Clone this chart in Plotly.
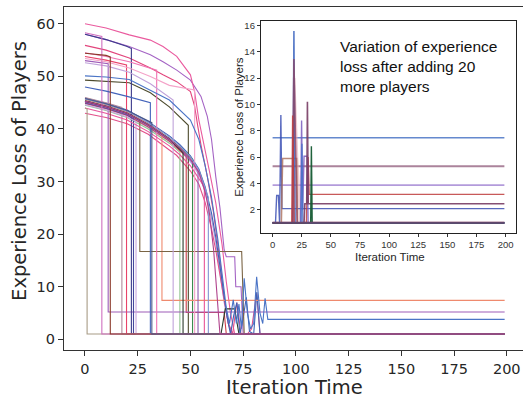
import plotly.graph_objects as go

# ---------------- main chart data (iteration time, experience loss) ----------------
tan_t = [0, 1, 1, 199]
tan_v = [44.0, 43.8, 1, 1]
lmag_t = [0, 8, 8, 199]
lmag_v = [58.3, 57.6, 1, 1]
brown_t = [0, 10, 12, 12, 199]
brown_v = [54.4, 54.0, 53.7, 1, 1]
navyb_t = [0, 10, 20, 31.7, 31.7, 199]
navyb_v = [45.8, 44.8, 43.5, 41.2, 1, 1]
magenta_t = [0, 10, 20, 30, 40, 45, 50, 54, 57, 59, 61, 63, 64, 199]
magenta_v = [45.3, 44.3, 43.0, 40.8, 38.1, 36.4, 34.3, 31.8, 28.0, 24.0, 17.0, 7.0, 1, 1]

purple_long_t = [0, 10, 21, 31, 37, 43.5, 50, 55, 58, 60, 62, 64, 66, 67, 71, 71.5, 74, 75, 199]
purple_long_v = [58, 57, 55.7, 54.1, 52.8, 51.2, 49.3, 46.2, 42.4, 38, 31, 25, 17, 15.7, 15.7, 10, 10, 1, 1]
pink_top_t = [0, 10, 21, 31, 37, 43.5, 50, 52, 54, 56, 59, 62, 65, 67, 69, 71, 199]
pink_top_v = [60, 59.2, 57.9, 56.9, 55.7, 53.8, 50.3, 47, 41.7, 38, 32, 26, 18, 11, 5, 1, 1]
pinkred_t = [0, 10, 21, 31, 37, 43.5, 50, 52, 53.5, 55, 58, 61, 64, 66, 68, 69.5, 199]
pinkred_v = [55.9, 55, 53.5, 51.6, 50.3, 49, 47.1, 44.3, 40.5, 37, 31, 24, 15, 8, 3, 1, 1]
blue_wig_t = [0, 10, 21, 31, 40, 50, 54, 57, 60, 63, 65, 67, 68.5, 70.3, 71.8, 73, 74.2, 75.5,
              77, 78.5, 80, 81.4, 83, 84.3, 85.4, 86.7, 199]
blue_wig_v = [50.1, 49.9, 49.4, 47.4, 45.5, 41.7, 38, 33, 27, 19, 12, 6, 3, 7.5, 3, 6.7, 2, 11.6,
              5, 2, 3, 11.9, 5, 3, 7.8, 3.8, 3.8]
blue2_t = [0, 10, 20, 30, 40, 45, 50, 54, 57, 60, 62, 64, 66, 67.5, 69, 70.5, 72, 73.5, 75, 76.5,
           78, 80, 81.5, 83, 199]
blue2_v = [45.9, 44.9, 43.6, 41.4, 38.7, 37, 34.9, 32.4, 29, 24, 19.5, 13.5, 8, 4, 1, 4.5, 7, 1, 4,
           8, 1.5, 1, 9, 1, 1]
pink43_t = [0, 10, 20, 30, 40, 43.4, 50, 54, 57, 60, 62, 64, 66, 68, 70, 72, 74, 77, 79, 81.4, 83, 199]
pink43_v = [43, 42.2, 41, 39, 36, 35, 32, 29.5, 26, 21, 17, 12, 7.5, 3, 1, 7, 1, 1, 2, 8.75, 1, 1]
lav_t = [0, 10, 20, 30, 40, 45, 50, 54, 57, 60, 62, 64, 66, 68, 70, 199]
lav_v = [44.8, 43.8, 42.5, 40.3, 37.6, 35.9, 33.8, 31.4, 28, 23, 18.5, 12.5, 7, 3, 1, 1]
olive_t = [0, 10, 21, 31, 40, 49, 49, 199]
olive_v = [49.3, 49.0, 48.8, 46.9, 44.2, 40.7, 1, 1]
dkgreen_t = [0, 10, 20, 30, 40, 46.5, 46.5, 64.5, 66.5, 71, 73, 199]
dkgreen_v = [45.3, 44.3, 43, 40.8, 38.1, 35.5, 1, 1, 5.8, 5.8, 1, 1]
green_t = [0, 10, 20, 30, 40, 45, 51, 51, 199]
green_v = [45.4, 44.4, 43.1, 40.9, 38.2, 36.5, 34.2, 1, 1]
lgreen_t = [0, 10, 20, 30, 40, 45, 45, 199]
lgreen_v = [44.5, 43.5, 42.2, 40, 37.3, 35.6, 1, 1]
red_t = [0, 10, 20, 30, 40, 45, 48, 48, 66, 67, 199]
red_v = [44.9, 43.9, 42.6, 40.4, 37.7, 36, 34.8, 5.1, 5.1, 1, 1]
salmon_t = [0, 10, 20, 30, 36.5, 36.5, 199]
salmon_v = [45.6, 44.6, 43.3, 41.1, 39.4, 7.4, 7.4]
oliveb_t = [0, 10, 20, 26, 26, 74.3, 75.5, 199]
oliveb_v = [45.2, 44.2, 42.9, 41.7, 16.7, 16.7, 1, 1]
purple52_t = [0, 11, 11, 199]
purple52_v = [53.0, 52.4, 5.2, 5.2]
mauve_t = [0, 10, 17.5, 17.5, 199]
mauve_v = [46.0, 45.0, 44.1, 1, 1]
redpink_t = [0, 10, 19.7, 19.7, 199]
redpink_v = [53.8, 53.1, 52.2, 1, 1]
navy58_t = [0, 10, 20, 22, 22, 199]
navy58_v = [58, 57, 55.7, 55.3, 1, 1]
navy45_t = [0, 10, 20, 23, 23, 199]
navy45_v = [45, 44, 42.7, 42, 1, 1]
lpurp_t = [0, 10, 20, 24.2, 24.2, 199]
lpurp_v = [44.6, 43.6, 42.3, 41.4, 1, 1]
blue48_t = [0, 10, 20, 31, 31, 199]
blue48_v = [48, 47.2, 46.2, 45, 1, 1]
pink54_t = [0, 10, 21, 34, 34, 199]
pink54_v = [54.5, 53.8, 52.8, 51.2, 1, 1]
lpurp52_t = [0, 10, 21, 31, 41.8, 41.8, 199]
lpurp52_v = [52.6, 52, 50.8, 48.6, 45.5, 1, 1]
lpink_t = [0, 10, 21, 31, 40, 52, 52, 199]
lpink_v = [53.4, 52.8, 51.6, 50, 48.3, 47.4, 1, 1]
purp45_t = [0, 10, 20, 30, 40, 45, 50, 53.6, 53.6, 199]
purp45_v = [45.1, 44.1, 42.8, 40.6, 37.9, 36.2, 34.1, 32, 1, 1]
pink44_t = [0, 10, 20, 30, 40, 45, 50, 56.6, 56.6, 199]
pink44_v = [44, 43, 41.7, 39.5, 36.8, 35.1, 33, 29, 1, 1]
bluelav_t = [0, 10, 20, 30, 40, 45, 50, 54, 58.5, 58.5, 199]
bluelav_v = [45.7, 44.7, 43.4, 41.2, 38.5, 36.8, 34.7, 32.2, 27, 1, 1]

main_series = [
    (purple_long_t, purple_long_v, "#a463c4"),
    (pink_top_t, pink_top_v, "#ea5a9e"),
    (pinkred_t, pinkred_v, "#e2457c"),
    (lav_t, lav_v, "#b49ad8"),
    (pink43_t, pink43_v, "#e2508a"),
    (blue2_t, blue2_v, "#3f62b4"),
    (olive_t, olive_v, "#4c4a2c"),
    (green_t, green_v, "#3c8a4c"),
    (lgreen_t, lgreen_v, "#92c692"),
    (red_t, red_v, "#cf3f4a"),
    (salmon_t, salmon_v, "#ef8a6e"),
    (oliveb_t, oliveb_v, "#7a6444"),
    (purple52_t, purple52_v, "#9d5cb8"),
    (mauve_t, mauve_v, "#b08a9c"),
    (redpink_t, redpink_v, "#e8436a"),
    (navy58_t, navy58_v, "#3d3a8c"),
    (navy45_t, navy45_v, "#46469c"),
    (lpurp_t, lpurp_v, "#c7a8de"),
    (blue48_t, blue48_v, "#4262ba"),
    (pink54_t, pink54_v, "#f072b2"),
    (lpurp52_t, lpurp52_v, "#c0a2da"),
    (lpink_t, lpink_v, "#f4a2c8"),
    (purp45_t, purp45_v, "#8e5cb0"),
    (pink44_t, pink44_v, "#e8559a"),
    (bluelav_t, bluelav_v, "#8494d2"),
    (dkgreen_t, dkgreen_v, "#2a3a2a"),
    (blue_wig_t, blue_wig_v, "#4a74c6"),
    (tan_t, tan_v, "#a89c86"),
    (lmag_t, lmag_v, "#d070c0"),
    (brown_t, brown_v, "#8b3a2a"),
    (navyb_t, navyb_v, "#4a5888"),
    (magenta_t, magenta_v, "#b0428c"),
]

# ---------------- inset data ----------------
in_blue_t = [0, 199]
in_blue_v = [7.46, 7.46]
in_mauve_t = [0, 199]
in_mauve_v = [5.3, 5.3]
in_lav_t = [0, 199]
in_lav_v = [3.87, 3.87]
in_navy_t = [0, 2.5, 3.5, 5, 6, 7.1, 8, 199]
in_navy_v = [1, 1, 3.08, 3.08, 1, 9.2, 2.08, 2.08]
in_brown_t = [0, 7.5, 8.6, 20.6, 21.5, 199]
in_brown_v = [1, 1, 5.89, 5.89, 1, 1]
in_pale_t = [0, 17, 18.5, 21, 24, 199]
in_pale_v = [1, 1, 12, 6, 1, 1]
in_peak_t = [0, 17.4, 18.3, 19.3, 199]
in_peak_v = [1, 1, 15.57, 1, 1]
in_mpeak_t = [0, 17.2, 18.3, 19.5, 21, 199]
in_mpeak_v = [1, 1, 13.45, 8, 1, 1]
in_red_t = [0, 16.5, 17.2, 18.5, 29, 30.5, 31.4, 199]
in_red_v = [1, 1, 9.15, 1, 1, 6.0, 3.16, 3.16]
in_purp_t = [0, 24, 24.9, 25.8, 27, 29.7, 30.5, 199]
in_purp_v = [1, 1, 8.77, 2, 6.06, 6.06, 1, 1]
in_bl2_t = [0, 24.5, 25.2, 26, 199]
in_bl2_v = [1, 1, 7.0, 1, 1]
in_dm_t = [0, 27, 27.7, 29.3, 29.9, 30.6, 199]
in_dm_v = [1, 1, 2.45, 2.45, 10.19, 2.45, 2.45]
in_grn_t = [0, 32.7, 33.3, 34, 199]
in_grn_v = [1, 1, 6.82, 1, 1]
in_base_t = [0, 199]
in_base_v = [1, 1]

inset_series = [
    (in_blue_t, in_blue_v, "rgba(74,116,198,0.85)", 1.6),
    (in_mauve_t, in_mauve_v, "rgba(150,100,130,0.8)", 1.8),
    (in_lav_t, in_lav_v, "rgba(160,130,210,0.8)", 1.8),
    (in_pale_t, in_pale_v, "rgba(230,170,180,0.6)", 2.5),
    (in_navy_t, in_navy_v, "rgba(60,80,180,0.85)", 1.4),
    (in_brown_t, in_brown_v, "rgba(170,110,90,0.8)", 1.6),
    (in_peak_t, in_peak_v, "rgba(60,100,190,0.85)", 1.6),
    (in_mpeak_t, in_mpeak_v, "rgba(140,70,100,0.8)", 1.6),
    (in_red_t, in_red_v, "rgba(190,60,60,0.85)", 1.4),
    (in_purp_t, in_purp_v, "rgba(120,90,190,0.85)", 1.4),
    (in_bl2_t, in_bl2_v, "rgba(70,110,200,0.85)", 1.4),
    (in_dm_t, in_dm_v, "rgba(120,60,100,0.9)", 1.6),
    (in_grn_t, in_grn_v, "rgba(20,90,50,0.95)", 1.4),
    (in_base_t, in_base_v, "rgba(100,70,110,0.95)", 2.0),
]

x_ticks = [0, 25, 50, 75, 100, 125, 150, 175, 200]
main_y_ticks = [0, 10, 20, 30, 40, 50, 60]
inset_y_ticks = [2, 4, 6, 8, 10, 12, 14, 16]

fig = go.Figure()
for t, v, c in main_series:
    fig.add_trace(go.Scatter(x=t, y=v, mode="lines", line=dict(color=c, width=1.1),
                             xaxis="x", yaxis="y", showlegend=False, hoverinfo="skip"))
for t, v, c, w in inset_series:
    fig.add_trace(go.Scatter(x=t, y=v, mode="lines", line=dict(color=c, width=w),
                             xaxis="x2", yaxis="y2", showlegend=False, hoverinfo="skip"))

tick_font = dict(family="DejaVu Sans", size=14.5, color="#262626")
axis_common = dict(showgrid=False, zeroline=False, showline=True, linecolor="#333333",
                   linewidth=1.3, ticks="outside", ticklen=5, tickcolor="#333333", tickwidth=1.2,
                   automargin=False)
inset_common = dict(showgrid=False, zeroline=False, showline=True, mirror=True, linecolor="#222222",
                    linewidth=1.3, ticks="outside", ticklen=3, tickcolor="#333333", automargin=False,
                    tickfont=dict(family="Liberation Sans", size=9.5, color="#333333"))

main_title_font = dict(family="DejaVu Sans", size=19.5, color="#262626")
inset_title_font = dict(family="Liberation Sans", size=11.5, color="#262626")

fig.update_layout(
    width=523, height=398,
    margin=dict(l=64, r=0, t=7, b=48, autoexpand=False),
    paper_bgcolor="white", plot_bgcolor="white",
    xaxis=dict(domain=[0, 1], range=[-9.95, 207.7], tickvals=x_ticks, tickfont=tick_font,
               mirror=True, **axis_common),
    yaxis=dict(domain=[0, 1], range=[-2.03, 63.2], tickvals=main_y_ticks, tickfont=tick_font,
               **axis_common),
    xaxis2=dict(domain=[0.4292, 0.9847], anchor="y2", range=[-9.95, 208.95], tickvals=x_ticks,
                **inset_common),
    yaxis2=dict(domain=[0.3423, 0.958], anchor="x2", range=[0.26, 16.3], tickvals=inset_y_ticks,
                **inset_common),
    annotations=[
        dict(text="Variation of experience<br>loss after adding 20<br>more players",
             xref="paper", yref="paper", x=0.597, y=0.916, xanchor="left", yanchor="top",
             align="left", showarrow=False,
             font=dict(family="Liberation Sans", size=15.5, color="#111111")),
        dict(text="Iteration Time", xref="paper", yref="paper", x=0.503, y=-0.108,
             xanchor="center", yanchor="middle", showarrow=False, font=main_title_font),
        dict(text="Experience Loss of Players", xref="paper", yref="paper", x=-0.0959, y=0.522,
             xanchor="center", yanchor="middle", showarrow=False, textangle=-90,
             font=main_title_font),
        dict(text="Iteration Time", xref="paper", yref="paper", x=0.710, y=0.2722,
             xanchor="center", yanchor="middle", showarrow=False, font=inset_title_font),
        dict(text="Experience Loss of Players", xref="paper", yref="paper", x=0.3797, y=0.6516,
             xanchor="center", yanchor="middle", showarrow=False, textangle=-90,
             font=inset_title_font),
    ],
)

fig.write_html("out.html", config={"displayModeBar": False},
               post_script="document.body.style.margin='0';document.body.style.overflow='hidden';")
